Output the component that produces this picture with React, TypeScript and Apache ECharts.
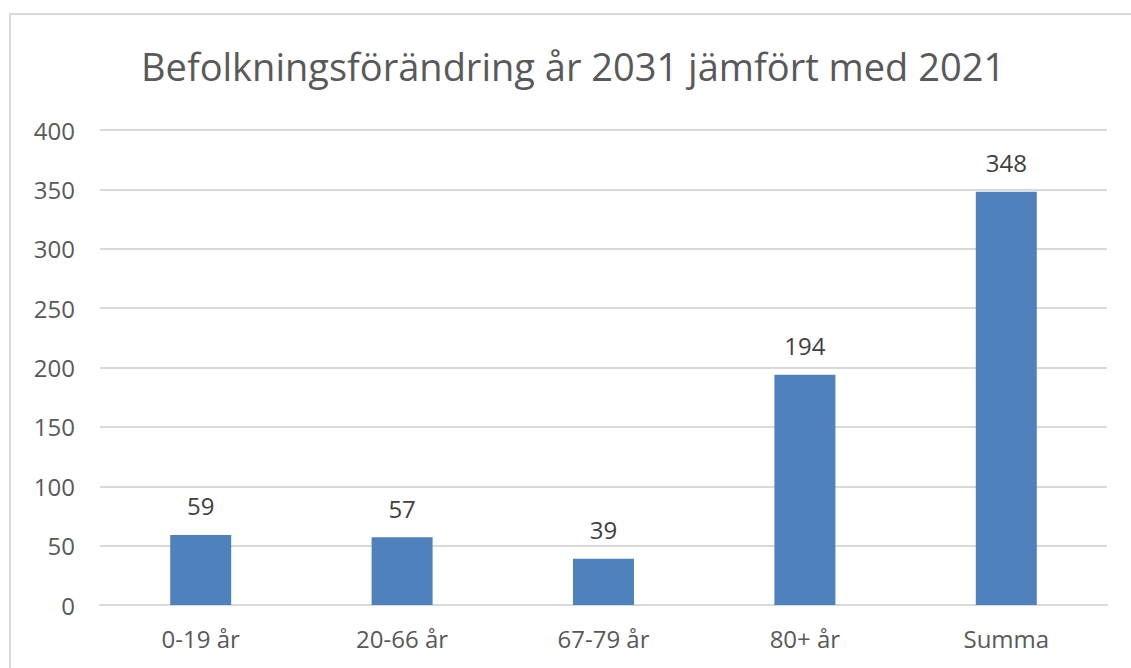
import React, { useEffect, useRef } from "react";
import * as echarts from "echarts";

const categories = ["0-19 år", "20-66 år", "67-79 år", "80+ år", "Summa"];
const values = [59, 57, 39, 194, 348];
const titleText = "Befolkningsförändring år 2031 jämfört med 2021";

export default function App() {
  const ref = useRef<HTMLDivElement>(null);
  useEffect(() => {
    if (!ref.current) return;
    const chart = echarts.init(ref.current, null, { renderer: "svg" });
    const font = "'Open Sans', 'Noto Sans', sans-serif";
    chart.setOption({
      animation: false,
      backgroundColor: "#ffffff",
      title: {
        text: titleText,
        left: 141,
        top: 47,
        padding: 0,
        textStyle: { fontFamily: font, fontSize: 38, fontWeight: "normal", color: "#595959" },
      },
      graphic: [
        {
          type: "rect",
          shape: { x: 10, y: 14, width: 1200, height: 700 },
          style: { fill: "none", stroke: "#d9d9d9", lineWidth: 2 },
          silent: true,
        },
      ],
      grid: { left: 100, right: 24, top: 130, bottom: 63 },
      xAxis: {
        type: "category",
        data: categories,
        axisLine: { show: true, lineStyle: { color: "#d9d9d9", width: 2 } },
        axisTick: { show: false },
        axisLabel: { fontFamily: font, fontSize: 24, color: "#595959", margin: 21 },
      },
      yAxis: {
        type: "value",
        min: 0,
        max: 400,
        interval: 50,
        axisLine: { show: false },
        axisTick: { show: false },
        splitLine: { lineStyle: { color: "#d9d9d9", width: 2 } },
        axisLabel: { fontFamily: font, fontSize: 24, color: "#595959", margin: 25 },
      },
      series: [
        {
          type: "bar",
          data: values,
          barWidth: 61,
          itemStyle: { color: "#4f81bd" },
          label: {
            show: true,
            position: "top",
            distance: 17,
            fontFamily: font,
            fontSize: 24,
            color: "#404040",
          },
        },
      ],
    });
    return () => chart.dispose();
  }, []);
  return (
    <div style={{ position: "fixed", left: 0, top: 0, width: 1131, height: 668, overflow: "hidden" }}>
      <div ref={ref} style={{ width: 1131, height: 668 }} />
    </div>
  );
}
